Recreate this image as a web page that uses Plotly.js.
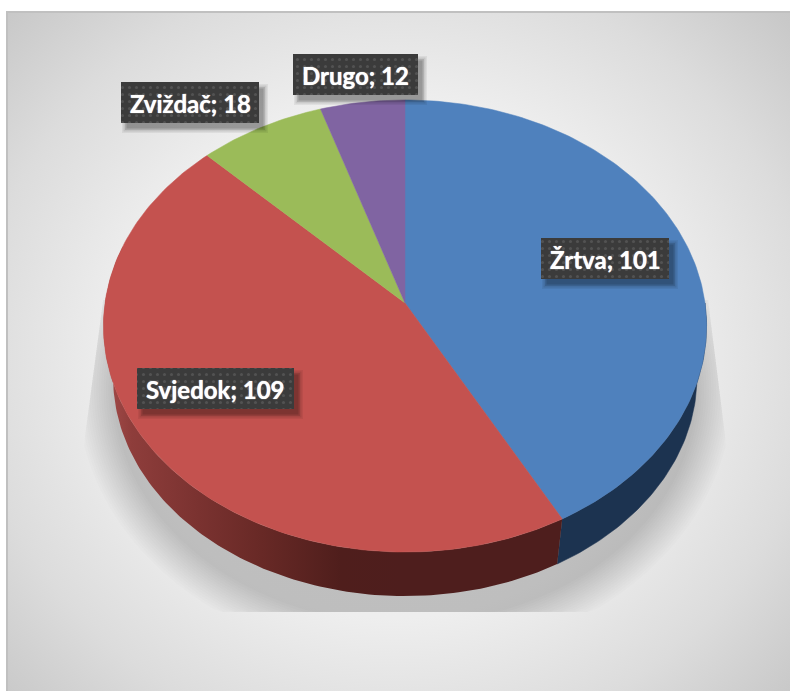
<!DOCTYPE html>
<html>
<head>
<meta charset="utf-8">
<script src="https://cdn.plot.ly/plotly-3.0.1.min.js"></script>
<style>
html,body{margin:0;padding:0;background:#fff;overflow:hidden}
#frame{position:absolute;left:6px;top:11px;width:784px;height:680px;box-sizing:border-box;border-left:2px solid #c0c0c0;border-top:2px solid #c0c0c0;
background:radial-gradient(ellipse 560px 520px at 387px 345px,#f4f4f4 0%,#eeeeee 50%,#dcdcdc 75%,#c9c9c9 95%,#c6c6c6 100%)}
#chart{position:absolute;left:0;top:0;width:790px;height:691px}
</style>
</head>
<body>
<div id="frame"></div>
<div id="chart"></div>
<script>
// Data
const categories = ['Žrtva', 'Svjedok', 'Zviždač', 'Drugo'];
const values = [101, 109, 18, 12];
const topColors = ['#4f81bd', '#c4524f', '#9bbb59', '#8064a2'];
const wallColors = ['#1c3350', '#4e1e1d', '#4e6028', '#40325a'];

// Label boxes (x0, x1, y0, y1 on the pixel-scale axes)
const boxX0 = [541, 137, 121, 293];
const boxX1 = [669, 294, 259, 418];
const boxY0 = [238, 368, 82, 54];
const boxY1 = [279, 409, 123, 95];

// Projection of the tilted disc
const apexX = 405, apexY = 303, radX = 300, radY = 223.7, persp = 0.1018;
const baseApexY = 355, baseScale = 0.968;

function project(deg, apexYv, scale) {
  const t = deg * Math.PI / 180, u = Math.sin(t), v = Math.cos(t), d = 1 + persp * v;
  return [apexX + scale * radX * u / d, apexYv - scale * radY * v / d];
}
function arc(a, b) {
  const pts = [], n = Math.max(2, Math.ceil(Math.abs(b - a)));
  for (let i = 0; i <= n; i++) pts.push(a + (b - a) * i / n);
  return pts;
}
const total = values.reduce((s, v) => s + v, 0);
const starts = [];
values.reduce((c, v, i) => { starts[i] = c; return c + v; }, 0);
const angle = c => c / total * 360;

const traces = [];
// Side walls
values.forEach((val, i) => {
  const a = Math.max(angle(starts[i]), 90), b = Math.min(angle(starts[i] + val), 285);
  if (b <= a) return;
  const top = arc(a, b).map(d => project(d, apexY, 1));
  const bot = arc(b, a).map(d => project(d, baseApexY, baseScale));
  const all = top.concat(bot, [top[0]]);
  const tr = {
    type: 'scatter', mode: 'lines', x: all.map(p => p[0]), y: all.map(p => p[1]),
    fill: 'toself', line: {width: 0.5, color: wallColors[i]}, fillcolor: wallColors[i],
    hoverinfo: 'skip', showlegend: false
  };
  if (categories[i] === 'Svjedok') {
    tr.line = {width: 0};
    tr.fillgradient = {type: 'horizontal', start: 105, stop: 400,
      colorscale: [[0, '#a54c4a'], [0.09, '#8e3d3b'], [0.32, '#7a3230'], [0.53, '#682926'], [0.8, '#4f1e1c'], [1, '#4e1e1d']]};
    delete tr.fillcolor;
  }
  traces.push(tr);
});
// Top surface wedges
values.forEach((val, i) => {
  const pts = arc(angle(starts[i]), angle(starts[i] + val)).map(d => project(d, apexY, 1));
  const all = [[apexX, apexY]].concat(pts, [[apexX, apexY]]);
  traces.push({
    type: 'scatter', mode: 'lines', x: all.map(p => p[0]), y: all.map(p => p[1]),
    fill: 'toself', fillcolor: topColors[i], line: {width: 0.5, color: topColors[i]},
    name: categories[i], text: categories[i] + '; ' + val, hoverinfo: 'text', showlegend: false
  });
});
// Label box shadows
[[5, 0.06], [3.5, 0.09], [2, 0.12], [0.5, 0.14]].forEach(([g, al]) => {
  const xs = [], ys = [];
  categories.forEach((c, i) => {
    const l = boxX0[i] + 6 - g, r = boxX1[i] + 4 + g, t = boxY0[i] + 7 - g, b = boxY1[i] + 5 + g;
    xs.push(l, r, r, l, l, null); ys.push(t, t, b, b, t, null);
  });
  traces.push({type: 'scatter', mode: 'lines', x: xs, y: ys, fill: 'toself', fillcolor: 'rgba(0,0,0,' + al + ')',
    line: {width: 0}, hoverinfo: 'skip', showlegend: false});
});
// Label boxes with dotted fill
categories.forEach((c, i) => {
  traces.push({type: 'scatter', mode: 'lines',
    x: [boxX0[i], boxX1[i], boxX1[i], boxX0[i], boxX0[i]],
    y: [boxY0[i], boxY0[i], boxY1[i], boxY1[i], boxY0[i]],
    fill: 'toself', fillcolor: '#3c3c3c', line: {width: 0},
    fillpattern: {shape: '.', bgcolor: '#3b3b3b', fgcolor: '#525252', size: 7, solidity: 0.15},
    hoverinfo: 'skip', showlegend: false});
});

// Soft shadow under the disc, built up from translucent layers
const shapes = [];
const layers = 16;
for (let k = 0; k < layers; k++) {
  const e = 36 * (1 - k / (layers - 1));
  let path = '';
  for (let d = 0; d < 360; d += 2) {
    const t = d * Math.PI / 180;
    let y = 390 - (234 + e) * Math.cos(t);
    let x = 405 + (292 + e) * Math.sin(t);
    y = Math.min(612, Math.max(300, y));
    const left = 103 - (y - 300) * 20 / 150, right = 702 + (y - 250) * 25 / 200;
    x = Math.min(right, Math.max(Math.min(left, 103), x));
    path += (d ? 'L' : 'M') + x.toFixed(1) + ',' + y.toFixed(1);
  }
  shapes.push({type: 'path', path: path + 'Z', layer: 'below', fillcolor: 'rgba(0,0,0,0.0125)', line: {width: 0}});
}

const annotations = categories.map((c, i) => ({
  x: (boxX0[i] + boxX1[i]) / 2, y: (boxY0[i] + boxY1[i]) / 2 + 0.5, xref: 'x', yref: 'y',
  text: '<b>' + c + '; ' + values[i] + '</b>', showarrow: false, xanchor: 'center', yanchor: 'middle',
  font: {family: 'Lato, Carlito, sans-serif', size: 24, color: '#ffffff', shadow: '0 0 1px #ffffff'}
}));

const layout = {
  width: 790, height: 691, margin: {l: 0, r: 0, t: 0, b: 0},
  paper_bgcolor: 'rgba(0,0,0,0)', plot_bgcolor: 'rgba(0,0,0,0)',
  xaxis: {range: [0, 790], visible: false, fixedrange: true},
  yaxis: {range: [691, 0], visible: false, fixedrange: true},
  showlegend: false, shapes, annotations
};
Plotly.newPlot('chart', traces, layout, {displayModeBar: false});
</script>
</body>
</html>
